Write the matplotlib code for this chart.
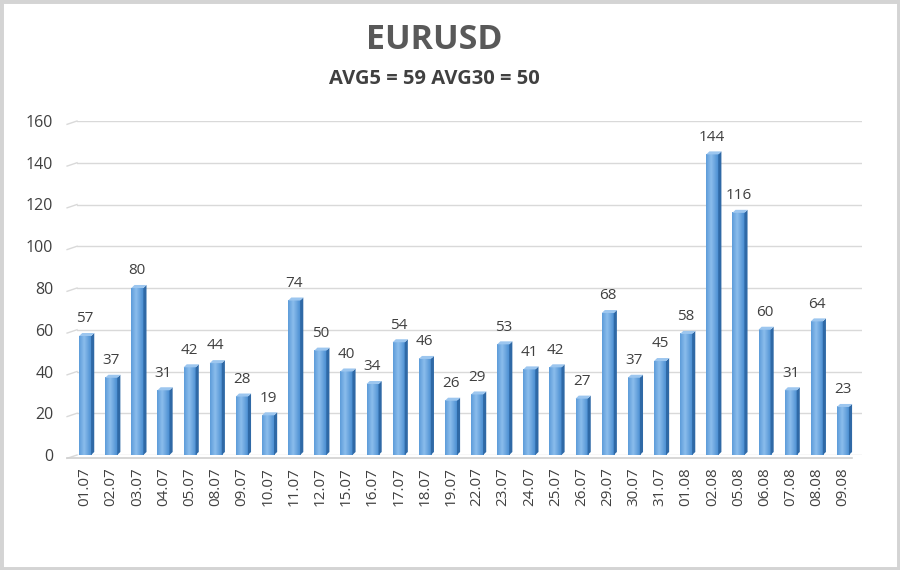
import matplotlib
matplotlib.use("Agg")
import matplotlib.pyplot as plt
import numpy as np
from matplotlib.patches import Polygon, Rectangle

dates = ["01.07", "02.07", "03.07", "04.07", "05.07", "08.07", "09.07", "10.07",
         "11.07", "12.07", "15.07", "16.07", "17.07", "18.07", "19.07", "22.07",
         "23.07", "24.07", "25.07", "26.07", "29.07", "30.07", "31.07", "01.08",
         "02.08", "05.08", "06.08", "07.08", "08.08", "09.08"]
values = [57, 37, 80, 31, 42, 44, 28, 19, 74, 50, 40, 34, 54, 46, 26, 29,
          53, 41, 42, 27, 68, 37, 45, 58, 144, 116, 60, 31, 64, 23]
title = "EURUSD"
subtitle = "AVG5 = 59 AVG30 = 50"
yticks = [0, 20, 40, 60, 80, 100, 120, 140, 160]

plt.rcParams['font.family'] = ['Open Sans', 'DejaVu Sans']

fig = plt.figure(figsize=(9, 5.7), dpi=100)
fig.patches.append(Rectangle((0, 0), 1, 1, transform=fig.transFigure,
                             fill=False, edgecolor="#d4d4d4", linewidth=5))

n = len(values)
xl, xr = -0.31, n - 1 + 0.73
ax = fig.add_axes([77/900, (570-455)/570, (862-77)/900, (455-121)/570])

for s in ax.spines.values():
    s.set_visible(False)

# gridlines (back wall) with small slanted left-wall segment
for yv in yticks:
    ax.plot([xl, xr], [yv, yv], color="#d9d9d9", lw=1.0, zorder=0)
    ax.plot([xl, xl - 0.38], [yv, yv - 1.6], color="#d9d9d9", lw=1.0, zorder=0,
            clip_on=False)
# floor
ax.plot([xl - 0.38, xr - 0.38], [-1.6, -1.6], color="#d0d0d0", lw=1.2, zorder=0,
        clip_on=False)

w = 0.46
dx = 0.12
dy = 1.45
front_c0 = np.array([0x45, 0x8a, 0xcf]) / 255
front_c1 = np.array([0x8a, 0xbc, 0xec]) / 255
prof = np.concatenate([np.linspace(0.35, 1.0, 20), np.linspace(1.0, 0.0, 30)])
img = (front_c0[None, :] * (1 - prof[:, None]) + front_c1[None, :] * prof[:, None])[None, :, :]

for i, v in enumerate(values):
    x0, x1 = i - w/2, i + w/2
    ax.imshow(img, extent=(x0, x1, 0, v), aspect='auto', zorder=2,
              interpolation='bilinear')
    side = Polygon([(x1, 0), (x1 + dx, dy), (x1 + dx, v + dy), (x1, v)],
                   closed=True, facecolor="#2f69a6", edgecolor="none", zorder=2)
    ax.add_patch(side)
    top = Polygon([(x0, v), (x0 + dx, v + dy), (x1 + dx, v + dy), (x1, v)],
                  closed=True, facecolor="#9cc6ef", edgecolor="none", zorder=2)
    ax.add_patch(top)
    ax.annotate(str(v), (i, v), xytext=(0, 7), textcoords="offset points",
                ha="center", va="bottom", fontsize=11, color="#404040")

ax.set_xlim(xl, xr)
ax.set_ylim(0, 160)
ax.set_xticks(range(n))
ax.set_xticklabels(dates, rotation=90, fontsize=11, color="#404040")
ax.set_yticks(yticks)
ax.set_yticklabels([str(t) for t in yticks], fontsize=11.5, color="#404040")
ax.tick_params(axis='both', length=0)
ax.tick_params(axis='y', pad=17)
ax.tick_params(axis='x', pad=9)

fig.text(0.483, 0.930, title, ha="center", va="center", fontsize=24.5,
         fontweight="bold", color="#595959")
fig.text(0.483, 0.862, subtitle, ha="center", va="center", fontsize=14.5,
         fontweight="bold", color="#404040")

fig.savefig("out.png", dpi=100)
